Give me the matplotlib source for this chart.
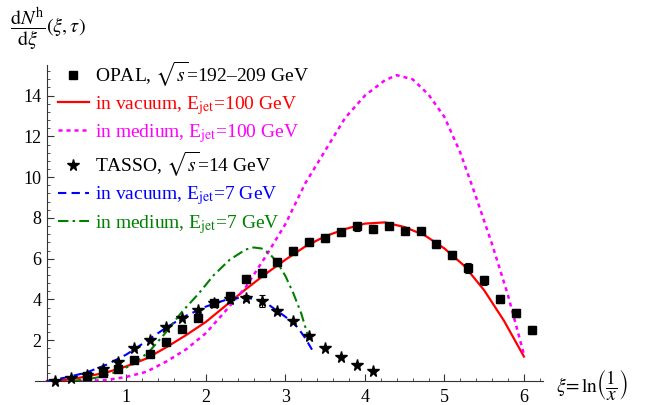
import matplotlib
matplotlib.use("Agg")
import matplotlib.pyplot as plt
from matplotlib.ticker import MultipleLocator, FixedLocator

plt.rcParams['font.family'] = ['Liberation Serif', 'DejaVu Serif']
plt.rcParams['mathtext.fontset'] = 'stix'

# OPAL data, sqrt(s)=192-209 GeV
opal_xi = [0.5, 0.7, 0.9, 1.1, 1.3, 1.5, 1.7, 1.9, 2.1, 2.3, 2.5, 2.7, 2.9, 3.1, 3.3,
           3.5, 3.7, 3.9, 4.1, 4.3, 4.5, 4.7, 4.9, 5.1, 5.3, 5.5, 5.7, 5.9, 6.1]
opal_val = [0.25, 0.38, 0.59, 1.03, 1.34, 1.90, 2.53, 3.09, 3.81, 4.17, 5.00, 5.31, 5.85, 6.37, 6.80,
            7.01, 7.30, 7.58, 7.45, 7.60, 7.34, 7.35, 6.70, 6.18, 5.56, 4.93, 4.02, 3.33, 2.50]
opal_err = [0.05, 0.05, 0.06, 0.08, 0.08, 0.10, 0.10, 0.12, 0.15, 0.15, 0.20, 0.20, 0.20, 0.20, 0.20,
            0.20, 0.18, 0.20, 0.20, 0.15, 0.15, 0.15, 0.20, 0.20, 0.25, 0.20, 0.20, 0.20, 0.20]

# TASSO data, sqrt(s)=14 GeV
tasso_xi = [0.1, 0.3, 0.5, 0.7, 0.9, 1.1, 1.3, 1.5, 1.7, 1.9, 2.1, 2.3, 2.5, 2.7, 2.9,
            3.1, 3.3, 3.5, 3.7, 3.9, 4.1]
tasso_val = [0.02, 0.13, 0.31, 0.60, 0.95, 1.60, 2.01, 2.66, 3.09, 3.48, 3.81, 4.00, 4.08, 3.92, 3.43,
             2.94, 2.20, 1.63, 1.19, 0.80, 0.49]
tasso_err = [0.02, 0.02, 0.03, 0.04, 0.05, 0.06, 0.07, 0.08, 0.08, 0.10, 0.12, 0.15, 0.15, 0.30, 0.12,
             0.10, 0.10, 0.06, 0.05, 0.04, 0.03]

# in vacuum, E_jet = 100 GeV
vac100_xi = [0.0, 0.25, 0.5, 0.75, 1.0, 1.25, 1.5, 1.75, 2.0, 2.25, 2.5, 2.75, 3.0, 3.25,
             3.5, 3.75, 4.0, 4.25, 4.5, 4.75, 5.0, 5.25, 5.5, 5.75, 6.0]
vac100_val = [0.0, 0.06, 0.22, 0.42, 0.72, 1.10, 1.65, 2.25, 2.90, 3.70, 4.50, 5.25, 5.95, 6.60,
              7.10, 7.45, 7.72, 7.78, 7.55, 7.15, 6.50, 5.65, 4.45, 2.95, 1.20]

# in medium, E_jet = 100 GeV
med100_xi = [0.4, 0.5, 0.75, 1.0, 1.25, 1.5, 1.75, 2.0, 2.25, 2.5, 2.75, 3.0, 3.25, 3.5, 3.75,
             4.0, 4.25, 4.4, 4.6, 4.8, 5.0, 5.2, 5.4, 5.6, 5.8, 6.0]
med100_val = [0.0, 0.0, 0.05, 0.20, 0.45, 0.95, 1.55, 2.35, 3.45, 4.60, 6.10, 7.70, 9.70, 11.30, 12.90,
              14.00, 14.75, 15.00, 14.80, 14.05, 12.95, 11.20, 9.00, 6.70, 4.20, 1.30]

# in vacuum, E_jet = 7 GeV
vac7_xi = [0.0, 0.25, 0.5, 0.75, 1.0, 1.25, 1.5, 1.75, 2.0, 2.25, 2.5, 2.75, 3.0, 3.15, 3.25, 3.34]
vac7_val = [0.0, 0.18, 0.42, 0.80, 1.30, 1.95, 2.62, 3.20, 3.65, 3.98, 4.12, 3.85, 3.15, 2.65, 2.10, 1.50]

# in medium, E_jet = 7 GeV
med7_xi = [0.3, 0.5, 0.7, 0.9, 1.1, 1.3, 1.5, 1.7, 1.9, 2.1, 2.3, 2.5, 2.6, 2.7, 2.8, 2.9,
           3.0, 3.1, 3.2, 3.3]
med7_val = [0.0, 0.08, 0.22, 0.48, 0.85, 1.50, 2.40, 3.40, 4.25, 5.20, 5.95, 6.45, 6.55, 6.50, 6.25, 5.80,
            5.15, 4.30, 3.30, 2.00]

fig = plt.figure(figsize=(6.53, 4.05), dpi=100)
ax = fig.add_axes([35 / 653, 1 - 381 / 405, 508 / 653, 316 / 405])

l_opal = ax.errorbar(opal_xi, opal_val, yerr=opal_err, fmt='s', color='black', ms=5.2,
                     elinewidth=0.8, capsize=2, capthick=0.8, clip_on=False, zorder=5)
l_vac100, = ax.plot(vac100_xi, vac100_val, color='#ff0000', lw=1.6, zorder=3)
l_med100, = ax.plot(med100_xi, med100_val, color='#ff00ff', lw=1.8, dashes=(1.6, 1.6), zorder=3)
l_tasso = ax.errorbar(tasso_xi, tasso_val, yerr=tasso_err, fmt='*', color='black', ms=8.5,
                      elinewidth=0.8, capsize=2, capthick=0.8, clip_on=False, zorder=5)
l_vac7, = ax.plot(vac7_xi, vac7_val, color='#0000ff', lw=1.5, dashes=(4, 2.5), zorder=4)
l_med7, = ax.plot(med7_xi, med7_val, color='#008000', lw=1.5, dashes=(5, 2, 1.2, 2), zorder=4)

ax.set_xlim(-0.15, 6.24)
ax.set_ylim(0, 15.5)

for s in ['top', 'right']:
    ax.spines[s].set_visible(False)
ax.spines['left'].set_position(('data', 0))
ax.spines['bottom'].set_position(('data', 0))
ax.spines['left'].set_color('#333333')
ax.spines['bottom'].set_color('#333333')

ax.xaxis.set_major_locator(FixedLocator([1, 2, 3, 4, 5, 6]))
ax.xaxis.set_minor_locator(MultipleLocator(0.2))
ax.yaxis.set_major_locator(FixedLocator([2, 4, 6, 8, 10, 12, 14]))
ax.yaxis.set_minor_locator(MultipleLocator(0.4))
ax.tick_params(which='both', direction='in', colors='#333333', labelcolor='black', labelsize=13)
ax.tick_params(which='major', length=5, width=0.8)
ax.tick_params(which='minor', length=2.5, width=0.6)
ax.tick_params(axis='x', pad=6)
ax.tick_params(axis='y', pad=4)

labels = [r'OPAL, $\sqrt{s}$=192–209 GeV',
          r'in vacuum, E$_{\mathrm{jet}}$=100 GeV',
          r'in medium, E$_{\mathrm{jet}}$=100 GeV',
          r'TASSO, $\sqrt{s}$=14 GeV',
          r'in vacuum, E$_{\mathrm{jet}}$=7 GeV',
          r'in medium, E$_{\mathrm{jet}}$=7 GeV']
handles = [l_opal[0], l_vac100, l_med100, l_tasso[0], l_vac7, l_med7]
leg = ax.legend(handles, labels, loc='upper left', bbox_to_anchor=(0.018, 1.06), frameon=False,
                fontsize=14, handlelength=1.6, handletextpad=0.3, labelspacing=0.27,
                borderaxespad=0.3,
                labelcolor=['black', '#ff0000', '#ff00ff', 'black', '#0000ff', '#008000'])

fig.text(0.016, 0.928, r'$\dfrac{\mathrm{d}N^{\mathrm{h}}}{\mathrm{d}\xi}(\xi,\tau)$', fontsize=14.5,
         ha='left', va='center')
fig.text(0.852, 0.05, r'$\xi\!=\ln\!\left(\dfrac{1}{x}\right)$', fontsize=14, ha='left', va='center')

fig.savefig('out.png', dpi=100)
